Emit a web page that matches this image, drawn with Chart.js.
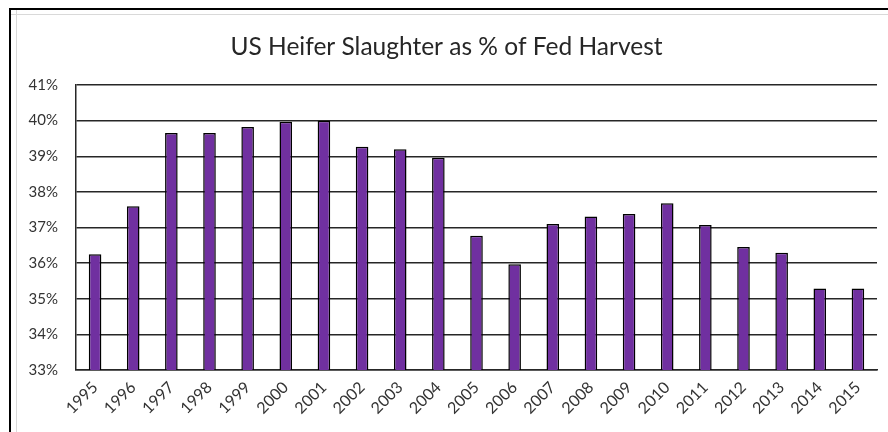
<!DOCTYPE html>
<html>
<head>
<meta charset="utf-8">
<script src="https://cdn.jsdelivr.net/npm/chart.js@4.4.1/dist/chart.umd.min.js"></script>
<style>
  html, body { margin: 0; padding: 0; background: #fff; }
  #wrap { position: relative; width: 888px; height: 432px; overflow: hidden; }
  #frameTop { position: absolute; left: 9px; top: 8px; width: 879px; height: 2px; background: #000; }
  #frameLeft { position: absolute; left: 9px; top: 8px; width: 2px; height: 424px; background: #000; }
  #sheetTop { position: absolute; left: 11px; top: 14px; width: 877px; height: 1px; background: #d9d9d9; }
  #sheetLeft { position: absolute; left: 16px; top: 10px; width: 1px; height: 422px; background: #d9d9d9; }
  canvas { position: absolute; left: 0; top: 0; }
</style>
</head>
<body>
<div id="wrap">
  <div id="sheetTop"></div>
  <div id="sheetLeft"></div>
  <div id="frameTop"></div>
  <div id="frameLeft"></div>
  <canvas id="c" width="888" height="432"></canvas>
</div>
<script>
const years = ["1995","1996","1997","1998","1999","2000","2001","2002","2003","2004","2005","2006","2007","2008","2009","2010","2011","2012","2013","2014","2015"];
const heiferPct = [36.25, 37.6, 39.65, 39.65, 39.82, 39.97, 40.0, 39.27, 39.2, 38.96, 36.77, 35.97, 37.1, 37.31, 37.38, 37.68, 37.07, 36.45, 36.29, 35.29, 35.29];
const yMin = 33, yMax = 41, yStep = 1;
const titleText = "US Heifer Slaughter as % of Fed Harvest";

const FONT = "Lato, 'Open Sans', sans-serif";
const GRID = "#262626";

new Chart(document.getElementById('c'), {
  type: 'bar',
  data: {
    labels: years,
    datasets: [{
      label: 'Heifer %',
      data: heiferPct,
      backgroundColor: '#7030A0',
      borderColor: '#000000',
      borderWidth: 1.5,
      barPercentage: 0.33,
      categoryPercentage: 1.0
    }]
  },
  options: {
    responsive: false,
    animation: false,
    devicePixelRatio: 1,
    layout: { padding: { left: 16, right: 11, top: 14, bottom: 0 } },
    plugins: {
      legend: { display: false },
      tooltip: { enabled: false },
      title: {
        display: true,
        text: titleText,
        color: '#262626',
        font: { family: FONT, size: 24.5, weight: 'normal' },
        padding: { top: 18.3, bottom: 23.3 }
      }
    },
    scales: {
      x: {
        grid: { display: false, drawTicks: false },
        border: { display: true, color: GRID, width: 1.5 },
        ticks: {
          color: '#333333',
          font: { family: FONT, size: 16 },
          minRotation: 45,
          maxRotation: 45,
          padding: 8,
          autoSkip: false
        },
        afterFit: (s) => { s.height = 62; }
      },
      y: {
        min: yMin,
        max: yMax,
        grid: { color: GRID, lineWidth: 1.5, drawTicks: false },
        border: { display: true, color: GRID, width: 1.5 },
        ticks: {
          stepSize: yStep,
          color: '#333333',
          font: { family: FONT, size: 15 },
          padding: 18,
          callback: (v) => v + '%'
        },
        afterFit: (s) => { s.width = 60; }
      }
    }
  }
});
</script>
</body>
</html>
